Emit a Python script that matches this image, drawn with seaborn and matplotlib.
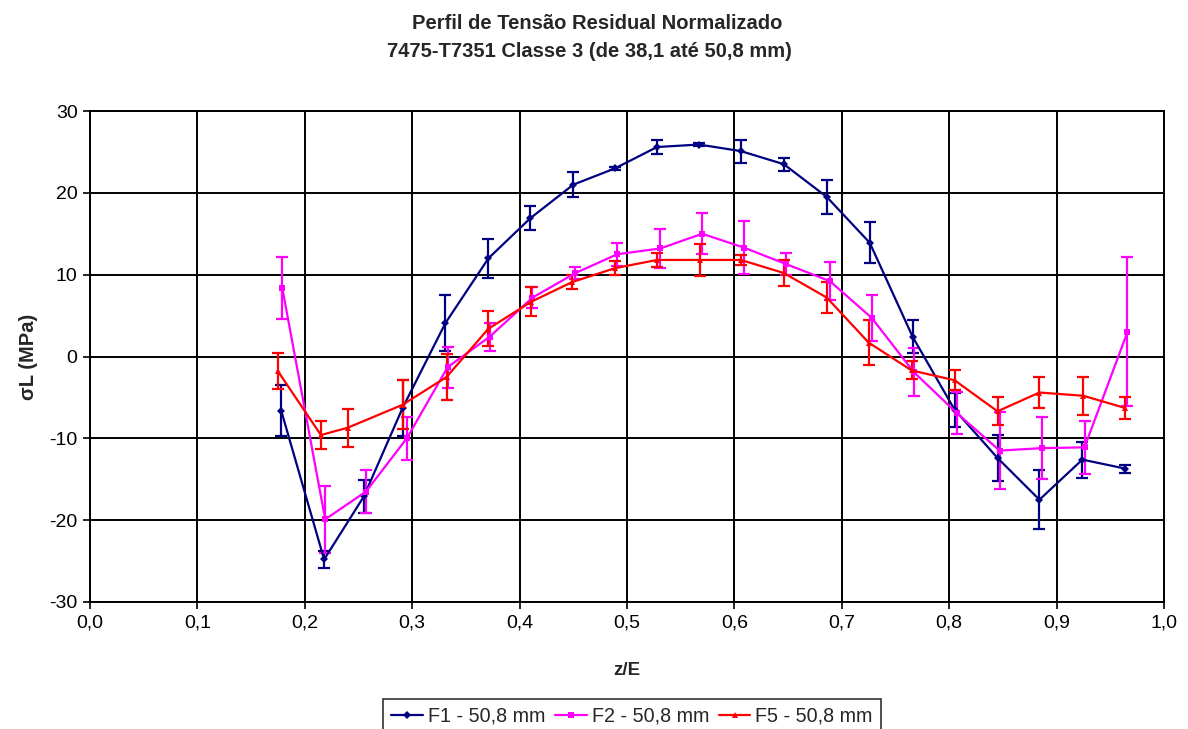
import numpy as np
import pandas as pd
import matplotlib
matplotlib.use("Agg")
import matplotlib.pyplot as plt
import seaborn as sns
from matplotlib.ticker import FuncFormatter, MultipleLocator

# ---- data ----
f1_x = [0.178, 0.218, 0.255, 0.291, 0.331, 0.371, 0.410, 0.450, 0.489, 0.528, 0.567,
        0.606, 0.646, 0.686, 0.726, 0.766, 0.805, 0.845, 0.884, 0.924, 0.964]
f1_y = [-6.6, -24.8, -17.1, -6.3, 4.1, 12.0, 16.9, 21.0, 23.0, 25.6, 25.9,
        25.1, 23.5, 19.5, 13.9, 2.4, -6.5, -12.4, -17.5, -12.6, -13.7]
f1_e = [3.1, 1.0, 2.0, 3.4, 3.4, 2.4, 1.5, 1.5, 0.2, 0.8, 0.2,
        1.4, 0.8, 2.1, 2.5, 2.0, 2.1, 2.8, 3.6, 2.2, 0.5]

f2_x = [0.179, 0.219, 0.257, 0.295, 0.333, 0.372, 0.412, 0.452, 0.491, 0.531, 0.570,
        0.609, 0.648, 0.689, 0.728, 0.767, 0.807, 0.847, 0.886, 0.926, 0.966]
f2_y = [8.4, -19.9, -16.5, -10.0, -1.3, 2.4, 7.2, 10.2, 12.5, 13.2, 15.0,
        13.3, 11.3, 9.2, 4.7, -1.9, -6.9, -11.5, -11.2, -11.1, 3.0]
f2_e = [3.8, 4.1, 2.6, 2.6, 2.5, 1.7, 1.3, 0.7, 1.4, 2.4, 2.5,
        3.2, 1.4, 2.3, 2.8, 2.9, 2.6, 4.7, 3.8, 3.2, 9.1]

f5_x = [0.175, 0.215, 0.240, 0.291, 0.332, 0.371, 0.411, 0.449, 0.489, 0.528, 0.568,
        0.606, 0.646, 0.686, 0.725, 0.765, 0.805, 0.845, 0.884, 0.925, 0.964]
f5_y = [-1.8, -9.6, -8.7, -5.9, -2.5, 3.4, 6.7, 9.1, 10.8, 11.8, 11.8,
        11.8, 10.2, 7.2, 1.7, -1.7, -2.9, -6.7, -4.4, -4.8, -6.3]
f5_e = [2.2, 1.7, 2.3, 3.0, 2.8, 2.1, 1.8, 0.8, 0.9, 0.9, 2.0,
        0.6, 1.6, 1.9, 2.7, 1.1, 1.2, 1.7, 1.9, 2.3, 1.3]

series_names = ["F1 - 50,8 mm", "F2 - 50,8 mm", "F5 - 50,8 mm"]
title_lines = ["Perfil de Tensão Residual Normalizado",
               "7475-T7351 Classe 3 (de 38,1 até 50,8 mm)"]
x_label = "z/E"
y_label = "σL (MPa)"

colors = {series_names[0]: "#000080", series_names[1]: "#FF00FF", series_names[2]: "#FF0000"}
markers = {series_names[0]: "D", series_names[1]: "s", series_names[2]: "^"}

frames = []
for name, xs, ys, es in zip(series_names, [f1_x, f2_x, f5_x], [f1_y, f2_y, f5_y], [f1_e, f2_e, f5_e]):
    frames.append(pd.DataFrame({"x": xs, "y": ys, "err": es, "series": name}))
df = pd.concat(frames, ignore_index=True)

sns.set_theme(style="white")
plt.rcParams["font.family"] = ["Liberation Sans", "DejaVu Sans"]

fig = plt.figure(figsize=(11.88, 7.29), dpi=100)
ax = fig.add_axes([90 / 1188, 1 - 602 / 729, (1164 - 90) / 1188, (602 - 111) / 729])

# error bars
for name in series_names:
    sub = df[df["series"] == name]
    ax.errorbar(sub["x"], sub["y"], yerr=sub["err"], fmt="none",
                ecolor=colors[name], elinewidth=1.6, capsize=4, capthick=1.6, zorder=3)

sns.lineplot(data=df, x="x", y="y", hue="series", style="series",
             palette=colors, markers=markers, dashes=False, sort=True,
             linewidth=1.6, markersize=4.5, markeredgewidth=0,
             ax=ax, legend=True, zorder=4)

ax.set_xlim(0, 1.0)
ax.set_ylim(-30, 30)
ax.xaxis.set_major_locator(MultipleLocator(0.1))
ax.yaxis.set_major_locator(MultipleLocator(10))
ax.xaxis.set_major_formatter(FuncFormatter(lambda v, p: f"{v:.1f}".replace(".", ",")))
ax.yaxis.set_major_formatter(FuncFormatter(lambda v, p: f"{v:.0f}"))
ax.grid(True, color="black", linewidth=1.4)
ax.set_axisbelow(True)
for s in ax.spines.values():
    s.set_color("black")
    s.set_linewidth(1.4)
ax.tick_params(axis="both", which="major", direction="out", length=5, width=1.2,
               color="black", labelsize=14, labelcolor="black", bottom=True, left=True, pad=4)

ax.set_xlabel(x_label, fontsize=13.5, fontweight="bold", labelpad=22)
ax.set_ylabel(y_label, fontsize=14.5, fontweight="bold", labelpad=8)

fig.text(597 / 1188, 1 - 29 / 729, title_lines[0], ha="center", va="baseline",
         fontsize=14.5, fontweight="bold")
fig.text(589 / 1188, 1 - 57 / 729, title_lines[1], ha="center", va="baseline",
         fontsize=14.5, fontweight="bold")

handles, labels = ax.get_legend_handles_labels()
ax.get_legend().remove()
leg = fig.legend(handles, labels, loc="upper center", bbox_to_anchor=(632 / 1188, 1 - 699 / 729),
                 ncol=3, frameon=True, fancybox=False, fontsize=14.2, handlelength=1.6,
                 handletextpad=0.25, columnspacing=0.5, borderpad=0.4, borderaxespad=0)
leg.get_frame().set_edgecolor("black")
leg.get_frame().set_linewidth(1.2)

fig.savefig("out.png", dpi=100, facecolor="white")
